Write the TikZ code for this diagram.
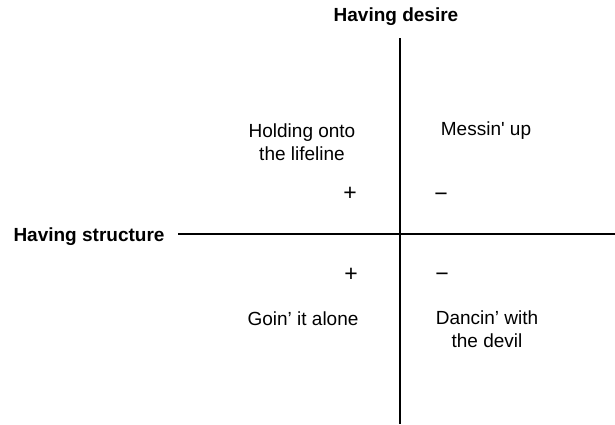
\documentclass[tikz,border=0pt]{standalone}
\usepackage{fontspec}
\setmainfont{Liberation Sans}
\begin{document}
\begin{tikzpicture}[x=1pt,y=-1pt,
  lbl/.style={font=\fontsize{19}{23}\selectfont, align=center, inner sep=0pt},
  axlbl/.style={lbl, font=\fontsize{19}{23}\selectfont\bfseries},
  sign/.style={inner sep=0pt, font=\fontsize{23}{25}\selectfont},
  axis/.style={line width=1.8pt}]
\useasboundingbox (0,0) rectangle (615,424);
\node[axlbl] (desire) at (396,17) {Having desire};
\node[axlbl] (structure) at (89,237) {Having structure};
\coordinate (vtop) at (400,38);
\coordinate (vbot) at (400,424);
\coordinate (hleft) at (178,234);
\coordinate (hright) at (615,234);
\draw[axis] (vtop) -- (vbot);
\draw[axis, line width=1.4pt] (hleft) -- (hright);
\node[lbl] (q1) at (302,142) {Holding onto\\the lifeline};
\node[lbl] (q2) at (486,131) {Messin\textquotesingle\ up};
\node[sign] (p1) at (350,194) {+};
\node[sign] (m1) at (441,197) {−};
\node[sign] (p2) at (351,275) {+};
\node[sign] (m2) at (442,277) {−};
\node[lbl] (q3) at (303,319) {Goin’ it alone};
\node[lbl] (q4) at (487,329) {Dancin’ with\\the devil};
\end{tikzpicture}
\end{document}
